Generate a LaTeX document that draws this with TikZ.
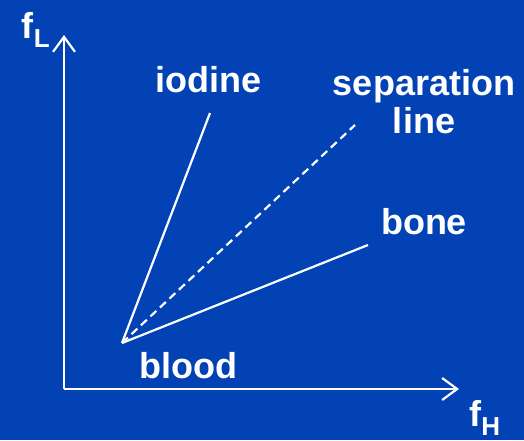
\documentclass[tikz,border=0pt]{standalone}
\usepackage{fontspec}
\setmainfont{Liberation Sans}
\usetikzlibrary{arrows.meta}
\definecolor{bgblue}{RGB}{2,66,180}
\begin{document}
\begin{tikzpicture}[x=1pt,y=-1pt,
  lbl/.style={text=white,font=\fontsize{36}{38}\selectfont\bfseries,inner sep=0pt},
  axis/.style={white,line width=2.2pt,-{Straight Barb[length=15pt,width=22pt,line width=2.2pt]}},
  ray/.style={white,line width=2.2pt},
  sep/.style={white,line width=2.2pt,dash pattern=on 8pt off 5pt}]
\fill[bgblue] (0,0) rectangle (524,440);
\useasboundingbox (0,0) rectangle (524,440);
\coordinate (O) at (64,389);
\coordinate (ytip) at (64,35);
\coordinate (xtip) at (459,389);
\coordinate (blood) at (122,343);
\coordinate (iod) at (210,113);
\coordinate (sepend) at (355,125);
\coordinate (bonend) at (368,245);
\draw[axis] (O) -- (ytip);
\draw[axis] (O) -- (xtip);
\draw[ray] (blood) -- (iod);
\draw[ray] (blood) -- (bonend);
\draw[sep] (blood) -- (sepend);
\node[lbl] (fL) at (36,30) {f\textsubscript{\fontsize{26}{28}\selectfont L}};
\node[lbl] (fH) at (485,418) {f\textsubscript{\fontsize{26}{28}\selectfont H}};
\node[lbl] (iodine) at (208,80) {iodine};
\node[lbl,align=center] (separation) at (424,102) {separation\\line};
\node[lbl] (bone) at (424,222) {bone};
\node[lbl] (bloodlbl) at (188,366) {blood};
\end{tikzpicture}
\end{document}
